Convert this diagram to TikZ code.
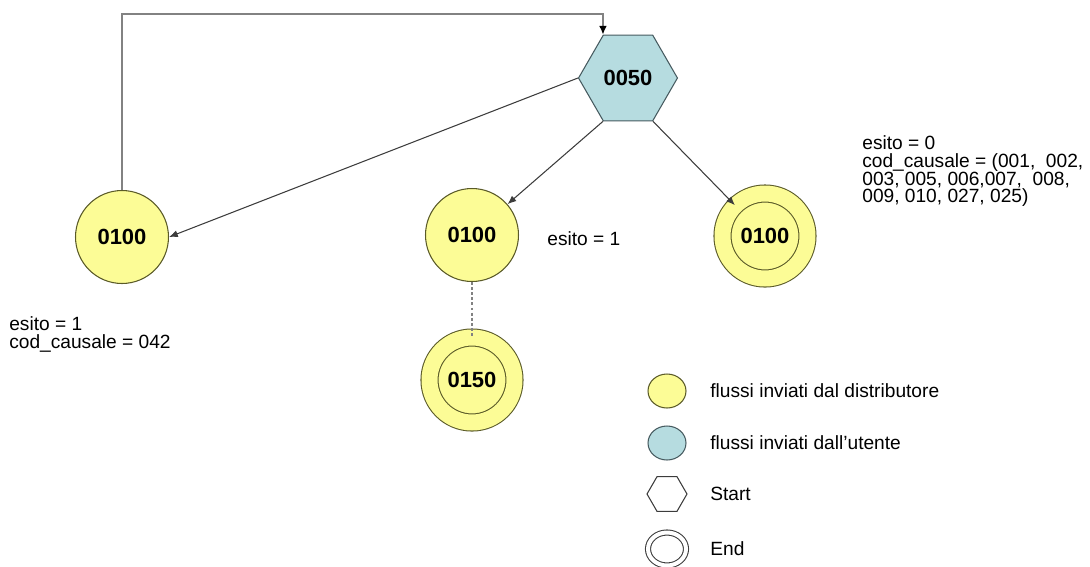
\documentclass[tikz,border=0pt]{standalone}
\usepackage{fontspec}
\setmainfont{Liberation Sans}
\usetikzlibrary{arrows.meta,shapes.geometric}
\definecolor{distyellow}{RGB}{252,252,150}
\definecolor{distedge}{RGB}{90,90,40}
\definecolor{userblue}{RGB}{182,220,224}
\definecolor{useredge}{RGB}{70,90,95}
\definecolor{linegray}{RGB}{60,60,60}
\definecolor{loopgray}{RGB}{130,130,130}

\begin{document}
\begin{tikzpicture}[x=0.02cm,y=-0.02cm,
dist/.style={circle,draw=distedge,fill=distyellow,line width=0.6pt,minimum size=1.86cm,font=\fontsize{12.5}{14}\selectfont\bfseries},
fine/.style={dist,minimum size=1.7cm,double=distyellow,double distance=0.32cm},
utente/.style={regular polygon,regular polygon sides=6,draw=useredge,fill=userblue,line width=0.6pt,minimum size=1.72cm,font=\fontsize{12.5}{14}\selectfont\bfseries},
nota/.style={align=left,font=\fontsize{10.9}{10.2}\selectfont,inner sep=0pt},
chiave/.style={ellipse,line width=0.6pt,minimum width=0.76cm,minimum height=0.68cm,inner sep=0pt},
freccia/.style={-{Latex[length=5pt,width=4pt]},linegray,line width=0.6pt}]
\useasboundingbox (0,0) rectangle (1090,566);
\node[utente] (hex) at (628,78) {0050};
\node[dist] (a1) at (122,237) {0100};
\node[dist] (a2) at (472,235) {0100};
\node[fine] (a3) at (765,236) {0100};
\node[fine] (a4) at (472,380) {0150};
\foreach \a/\b in {hex.180/a1.east,hex.240/a2,hex.300/a3} \draw[freccia] (\a)--(\b);
\draw[dash pattern=on 1.7pt off 1.2pt,loopgray,line width=0.7pt] (a2)--(a4);
\coordinate (giro) at (122,14);
\draw[loopgray,line width=1.2pt,-{Latex[length=5pt,width=4.5pt,black]}] (a1.north)--(giro)-|(hex.120);
\node[nota,anchor=west] (e1) at (547,239) {esito = 1};
\node[nota,anchor=north west] (e0) at (862,135) {esito = 0\\cod\_causale = (001,~~002,\\003, 005, 006,007,~~008,\\009, 010, 027, 025)};
\node[nota,anchor=north west] (e2) at (9,316) {esito = 1\\cod\_causale = 042};
\node[chiave,draw=distedge,fill=distyellow] (ky) at (667,391) {};
\node[chiave,draw=useredge,fill=userblue] (kb) at (667,443) {};
\node[regular polygon,regular polygon sides=6,draw=linegray,line width=0.6pt,minimum size=0.8cm,inner sep=0pt] (kh) at (667,494) {};
\node[chiave,draw=linegray,double=white,double distance=0.08cm,minimum width=0.76cm,minimum height=0.66cm] (ke) at (667,549) {};
\node[nota,anchor=west] (ty) at (710,391) {flussi inviati dal distributore};
\node[nota,anchor=west] (tb) at (710,443) {flussi inviati dall'utente};
\node[nota,anchor=west] (th) at (710,494) {Start};
\node[nota,anchor=west] (te) at (710,549) {End};
\end{tikzpicture}
\end{document}
